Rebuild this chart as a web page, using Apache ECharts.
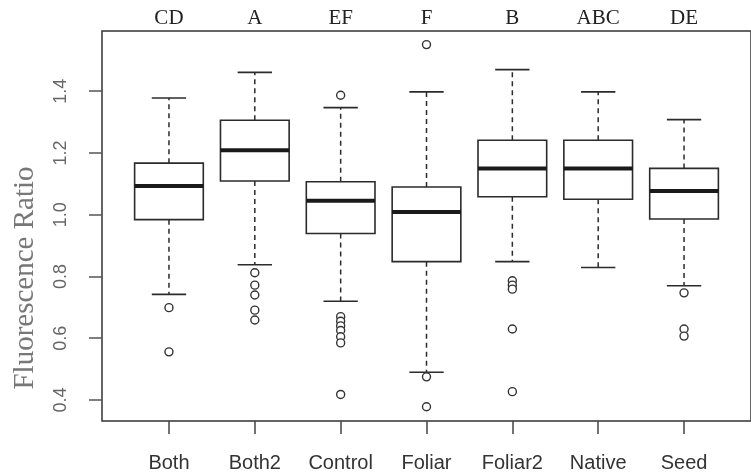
<!DOCTYPE html>
<html>
<head>
<meta charset="utf-8">
<script src="https://cdn.jsdelivr.net/npm/echarts@6/dist/echarts.min.js"></script>
<style>
html,body{margin:0;padding:0;background:#fff;}
#chart{width:751px;height:476px;}
</style>
</head>
<body>
<div id="chart"></div>
<script>
// ---- data ----
const categories = ['Both', 'Both2', 'Control', 'Foliar', 'Foliar2', 'Native', 'Seed'];
const groupLetters = ['CD', 'A', 'EF', 'F', 'B', 'ABC', 'DE'];
const lowerWhisker = [0.742, 0.838, 0.720, 0.490, 0.848, 0.829, 0.770];
const q1Values     = [0.984, 1.109, 0.939, 0.848, 1.058, 1.050, 0.986];
const medianValues = [1.093, 1.209, 1.045, 1.009, 1.150, 1.150, 1.077];
const q3Values     = [1.167, 1.306, 1.107, 1.090, 1.241, 1.241, 1.150];
const upperWhisker = [1.378, 1.461, 1.347, 1.398, 1.470, 1.398, 1.308];
const outliersBoth    = [0.699, 0.556];
const outliersBoth2   = [0.812, 0.772, 0.740, 0.691, 0.659];
const outliersControl = [1.387, 0.670, 0.655, 0.640, 0.625, 0.605, 0.585, 0.418];
const outliersFoliar  = [1.551, 0.475, 0.378];
const outliersFoliar2 = [0.786, 0.772, 0.759, 0.630, 0.427];
const outliersNative  = [];
const outliersSeed    = [0.747, 0.630, 0.607];
const yTickValues = [0.4, 0.6, 0.8, 1.0, 1.2, 1.4];
const yTickLabels = ['0.4', '0.6', '0.8', '1.0', '1.2', '1.4'];
const yAxisTitle = 'Fluorescence Ratio';

// ---- build library structures ----
const outlierGroups = [outliersBoth, outliersBoth2, outliersControl, outliersFoliar, outliersFoliar2, outliersNative, outliersSeed];
const positions = categories.map((c, i) => i + 1);
const boxData = categories.map((c, i) => [positions[i], lowerWhisker[i], q1Values[i], medianValues[i], q3Values[i], upperWhisker[i]]);
const outlierData = [];
outlierGroups.forEach((g, i) => g.forEach(v => outlierData.push([positions[i], v])));

const LINE = '#2b2b2b';
const BOX_HALF = 0.4, CAP_HALF = 0.2;

function renderBox(params, api) {
  const x = api.value(0), lo = api.value(1), q1 = api.value(2), med = api.value(3), q3 = api.value(4), hi = api.value(5);
  const tl = api.coord([x - BOX_HALF, q3]);
  const br = api.coord([x + BOX_HALF, q1]);
  const mL = api.coord([x - BOX_HALF, med]);
  const mR = api.coord([x + BOX_HALF, med]);
  const cHi = api.coord([x, hi]);
  const cQ3 = api.coord([x, q3]);
  const cQ1 = api.coord([x, q1]);
  const cLo = api.coord([x, lo]);
  const capL_hi = api.coord([x - CAP_HALF, hi]);
  const capR_hi = api.coord([x + CAP_HALF, hi]);
  const capL_lo = api.coord([x - CAP_HALF, lo]);
  const capR_lo = api.coord([x + CAP_HALF, lo]);
  const dashed = {stroke: LINE, lineWidth: 1.5, lineDash: [5, 4]};
  return {
    type: 'group',
    children: [
      {type: 'line', shape: {x1: cQ3[0], y1: cQ3[1], x2: cHi[0], y2: cHi[1]}, style: dashed},
      {type: 'line', shape: {x1: cQ1[0], y1: cQ1[1], x2: cLo[0], y2: cLo[1]}, style: dashed},
      {type: 'line', shape: {x1: capL_hi[0], y1: capL_hi[1], x2: capR_hi[0], y2: capR_hi[1]}, style: {stroke: LINE, lineWidth: 1.6}},
      {type: 'line', shape: {x1: capL_lo[0], y1: capL_lo[1], x2: capR_lo[0], y2: capR_lo[1]}, style: {stroke: LINE, lineWidth: 1.6}},
      {type: 'rect', shape: {x: tl[0], y: tl[1], width: br[0] - tl[0], height: br[1] - tl[1]}, style: {stroke: LINE, lineWidth: 1.6, fill: '#fff'}},
      {type: 'line', shape: {x1: mL[0], y1: mL[1], x2: mR[0], y2: mR[1]}, style: {stroke: '#1a1a1a', lineWidth: 4}}
    ]
  };
}

const chart = echarts.init(document.getElementById('chart'), null, {renderer: 'canvas'});
chart.setOption({
  backgroundColor: '#fff',
  animation: false,
  grid: {left: 102, top: 31, right: -6, bottom: 55, show: true, borderColor: '#333', borderWidth: 1.5, backgroundColor: 'transparent'},
  xAxis: [
    {
      type: 'value', min: 0.22, max: 7.78, position: 'bottom',
      splitLine: {show: false}, axisLine: {show: false},
      axisTick: {show: true, inside: false, length: 13, lineStyle: {color: '#444', width: 1.5}, customValues: positions},
      axisLabel: {
        customValues: positions, margin: 32,
        formatter: v => categories[Math.round(v) - 1],
        fontFamily: 'Liberation Sans', fontSize: 20, color: '#333'
      }
    },
    {
      type: 'value', min: 0.22, max: 7.78, position: 'top',
      splitLine: {show: false}, axisLine: {show: false}, axisTick: {show: false},
      axisLabel: {
        customValues: positions, margin: 2,
        formatter: v => groupLetters[Math.round(v) - 1],
        fontFamily: 'Liberation Serif', fontSize: 21, color: '#222'
      }
    }
  ],
  yAxis: {
    type: 'value', min: 0.332, max: 1.595,
    splitLine: {show: false}, axisLine: {show: false},
    axisTick: {show: true, inside: false, length: 13, lineStyle: {color: '#555', width: 1.5}, customValues: yTickValues},
    axisLabel: {
      customValues: yTickValues, rotate: 90, margin: 32,
      formatter: v => yTickLabels[yTickValues.findIndex(t => Math.abs(t - v) < 1e-6)],
      fontFamily: 'Liberation Sans', fontSize: 18, color: '#666'
    }
  },
  graphic: [{
    type: 'text', x: 25, y: 278, rotation: Math.PI / 2,
    style: {text: yAxisTitle, fontFamily: 'Liberation Serif', fontSize: 29, fill: '#777', align: 'center', verticalAlign: 'middle'}
  }],
  series: [
    {type: 'custom', xAxisIndex: 0, yAxisIndex: 0, renderItem: renderBox, data: boxData, encode: {x: 0, y: [1, 2, 3, 4, 5]}, clip: false, z: 2},
    {type: 'scatter', xAxisIndex: 0, yAxisIndex: 0, data: outlierData, symbol: 'circle', symbolSize: 8,
     itemStyle: {color: '#fff', borderColor: '#333', borderWidth: 1.4, opacity: 1}, z: 5}
  ]
});
</script>
</body>
</html>
